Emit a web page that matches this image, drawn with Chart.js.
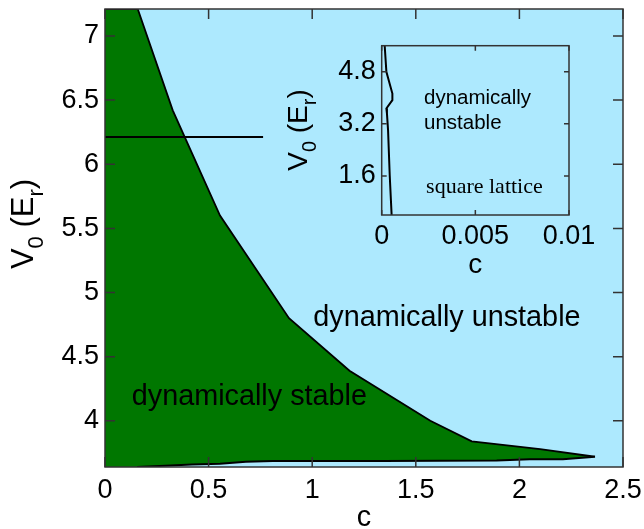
<!DOCTYPE html>
<html>
<head>
<meta charset="utf-8">
<script src="https://cdn.jsdelivr.net/npm/chart.js@4.4.0/dist/chart.umd.min.js"></script>
<style>
  body { margin: 0; background: #fff; }
  #wrap { position: relative; width: 644px; height: 529px; }
  #main { position: absolute; left: 0; top: 0; }
  #inset { position: absolute; left: 280px; top: 30px; }
</style>
</head>
<body>
<div id="wrap">
  <canvas id="main" width="644" height="529"></canvas>
  <canvas id="inset" width="320" height="255"></canvas>
</div>
<script>
// main plot: stability boundary
const upperC = [0, 0.158, 0.327, 0.555, 0.888, 1.18, 1.57, 1.77, 2.10, 2.365];
const upperV = [7.21, 7.21, 6.42, 5.60, 4.80, 4.39, 4.00, 3.84, 3.78, 3.72];
const lowerC = [0.155, 0.29, 0.42, 0.555, 0.68, 0.81, 1.34, 1.89, 2.05, 2.21, 2.365];
const lowerV = [3.64, 3.65, 3.66, 3.665, 3.68, 3.686, 3.687, 3.69, 3.70, 3.70, 3.72];
const hlineC = [0, 0.763];
const hlineV = [6.213, 6.213];
const xTicks = [0, 0.5, 1, 1.5, 2, 2.5];
const xTickLabels = ['0', '0.5', '1', '1.5', '2', '2.5'];
const yTicks = [4, 4.5, 5, 5.5, 6, 6.5, 7];
const yTickLabels = ['4', '4.5', '5', '5.5', '6', '6.5', '7'];

// inset: square lattice
const insetC = [0.00016, 0.00025, 0.00057, 0.00057, 0.00025, 0.00028, 0.00034, 0.00043, 0.00053];
const insetV = [5.6, 4.8, 4.13, 3.93, 3.67, 3.52, 3.0, 1.6, 0.4];
const insetXTicks = [0, 0.005, 0.01];
const insetXTickLabels = ['0', '0.005', '0.01'];
const insetYTicks = [1.6, 3.2, 4.8];
const insetYTickLabels = ['1.6', '3.2', '4.8'];

const GREEN = 'rgb(0,119,0)';
const BLUE = 'rgb(173,233,254)';
const SANS = '"Liberation Sans", Arial, sans-serif';
const SERIF = '"Liberation Serif", "Times New Roman", serif';

Chart.defaults.font.family = SANS;
Chart.defaults.color = '#000';

function pts(xs, ys) {
  return xs.map((x, i) => ({ x: x, y: ys[i] }));
}

// label like V_0 (E_r), rotated, subscripts drawn smaller and lower
function drawSubLabel(ctx, x, y, size) {
  const parts = [['V', 0], ['0', 1], [' (E', 0], ['r', 1], [')', 0]];
  const sub = Math.round(size * 0.7);
  let total = 0;
  parts.forEach(p => {
    ctx.font = (p[1] ? sub : size) + 'px ' + SANS;
    total += ctx.measureText(p[0]).width;
  });
  ctx.save();
  ctx.translate(x, y);
  ctx.rotate(-Math.PI / 2);
  ctx.fillStyle = '#000';
  ctx.textBaseline = 'alphabetic';
  ctx.textAlign = 'left';
  let pos = -total / 2;
  parts.forEach(p => {
    ctx.font = (p[1] ? sub : size) + 'px ' + SANS;
    ctx.fillText(p[0], pos, p[1] ? size * 0.33 : 0);
    pos += ctx.measureText(p[0]).width;
  });
  ctx.restore();
}

function drawFrame(chart, len) {
  const { ctx, chartArea: a, scales: { x, y } } = chart;
  ctx.save();
  ctx.strokeStyle = '#333';
  ctx.lineWidth = 1.5;
  ctx.beginPath();
  x.ticks.forEach(t => {
    const px = x.getPixelForValue(t.value);
    ctx.moveTo(px, a.bottom); ctx.lineTo(px, a.bottom - len);
    ctx.moveTo(px, a.top); ctx.lineTo(px, a.top + len);
  });
  y.ticks.forEach(t => {
    const py = y.getPixelForValue(t.value);
    ctx.moveTo(a.left, py); ctx.lineTo(a.left + len, py);
    ctx.moveTo(a.right, py); ctx.lineTo(a.right - len, py);
  });
  ctx.stroke();
  ctx.strokeRect(a.left, a.top, a.width, a.height);
  ctx.restore();
}

function fixAxis(size, key) {
  return function (scale) {
    scale[key] = size;
    scale.paddingTop = 0; scale.paddingBottom = 0;
    scale.paddingLeft = 0; scale.paddingRight = 0;
  };
}

const bgPlugin = {
  id: 'bg',
  beforeDraw(chart) {
    const { ctx, chartArea: a } = chart;
    ctx.save();
    ctx.fillStyle = BLUE;
    ctx.fillRect(a.left, a.top, a.width, a.height);
    ctx.restore();
  }
};

const mainDeco = {
  id: 'mainDeco',
  afterDatasetsDraw(chart) {
    const { ctx, scales: { x, y }, chartArea: a } = chart;
    drawFrame(chart, 10);
    ctx.save();
    ctx.fillStyle = '#000';
    ctx.textBaseline = 'alphabetic';
    ctx.textAlign = 'left';
    ctx.font = '28.8px ' + SANS;
    ctx.fillText('dynamically stable', x.getPixelForValue(0.129), y.getPixelForValue(4.125));
    ctx.fillText('dynamically unstable', x.getPixelForValue(1.005), y.getPixelForValue(4.74));
    ctx.textAlign = 'center';
    ctx.fillText('c', (a.left + a.right) / 2, 526);
    ctx.restore();
    drawSubLabel(ctx, 33, 224, 31);
  }
};

new Chart(document.getElementById('main').getContext('2d'), {
  type: 'scatter',
  data: {
    datasets: [
      {
        data: pts(hlineC, hlineV), showLine: true, borderColor: '#000',
        borderWidth: 2, pointRadius: 0, fill: false, order: 0
      },
      {
        data: pts(lowerC, lowerV), showLine: true, borderColor: '#000',
        borderWidth: 2, pointRadius: 0, fill: 'start', backgroundColor: BLUE, order: 1
      },
      {
        data: pts(upperC, upperV), showLine: true, borderColor: '#000',
        borderWidth: 1.8, pointRadius: 0, fill: 'start', backgroundColor: GREEN, order: 2
      }
    ]
  },
  options: {
    responsive: false,
    animation: false,
    devicePixelRatio: 1,
    layout: { padding: { top: 9, right: 21, left: 0, bottom: 0 } },
    plugins: { legend: { display: false }, tooltip: { enabled: false } },
    scales: {
      x: {
        type: 'linear', min: 0, max: 2.5,
        grid: { display: false, drawTicks: false },
        border: { display: false },
        afterBuildTicks: s => { s.ticks = xTicks.map(v => ({ value: v })); },
        afterFit: fixAxis(62, 'height'),
        ticks: { font: { size: 27 }, padding: 7, maxRotation: 0,
          callback: (v, i) => xTickLabels[i] }
      },
      y: {
        type: 'linear', min: 3.64, max: 7.21,
        grid: { display: false, drawTicks: false },
        border: { display: false },
        afterBuildTicks: s => { s.ticks = yTicks.map(v => ({ value: v })); },
        afterFit: fixAxis(105, 'width'),
        ticks: { font: { size: 27 }, padding: 6,
          callback: (v, i) => yTickLabels[i] }
      }
    }
  },
  plugins: [bgPlugin, mainDeco]
});

const insetDeco = {
  id: 'insetDeco',
  afterDatasetsDraw(chart) {
    const { ctx, scales: { x, y }, chartArea: a } = chart;
    drawFrame(chart, 5);
    ctx.save();
    ctx.fillStyle = '#000';
    ctx.textBaseline = 'alphabetic';
    ctx.textAlign = 'left';
    ctx.font = '20.5px ' + SANS;
    ctx.fillText('dynamically', x.getPixelForValue(0.00226), y.getPixelForValue(3.806));
    ctx.fillText('unstable', x.getPixelForValue(0.00226), y.getPixelForValue(3.04));
    ctx.font = '22px ' + SERIF;
    ctx.fillText('square lattice', x.getPixelForValue(0.00237), y.getPixelForValue(1.07));
    ctx.font = '28px ' + SANS;
    ctx.textAlign = 'center';
    ctx.fillText('c', (a.left + a.right) / 2, 243);
    ctx.restore();
    drawSubLabel(ctx, 27, 100, 28);
  }
};

new Chart(document.getElementById('inset').getContext('2d'), {
  type: 'scatter',
  data: {
    datasets: [{
      data: pts(insetC, insetV), showLine: true, borderColor: '#000',
      borderWidth: 2, pointRadius: 0, fill: false
    }]
  },
  options: {
    responsive: false,
    animation: false,
    devicePixelRatio: 1,
    layout: { padding: { top: 15.7, right: 31, left: 0, bottom: 0 } },
    plugins: { legend: { display: false }, tooltip: { enabled: false } },
    scales: {
      x: {
        type: 'linear', min: 0, max: 0.01,
        grid: { display: false, drawTicks: false },
        border: { display: false },
        afterBuildTicks: s => { s.ticks = insetXTicks.map(v => ({ value: v })); },
        afterFit: fixAxis(70, 'height'),
        ticks: { font: { size: 27 }, padding: 5, maxRotation: 0,
          callback: (v, i) => insetXTickLabels[i] }
      },
      y: {
        type: 'linear', min: 0.4, max: 5.6,
        grid: { display: false, drawTicks: false },
        border: { display: false },
        afterBuildTicks: s => { s.ticks = insetYTicks.map(v => ({ value: v })); },
        afterFit: fixAxis(101.7, 'width'),
        ticks: { font: { size: 27 }, padding: 6,
          callback: (v, i) => insetYTickLabels[i] }
      }
    }
  },
  plugins: [bgPlugin, insetDeco]
});
</script>
</body>
</html>
